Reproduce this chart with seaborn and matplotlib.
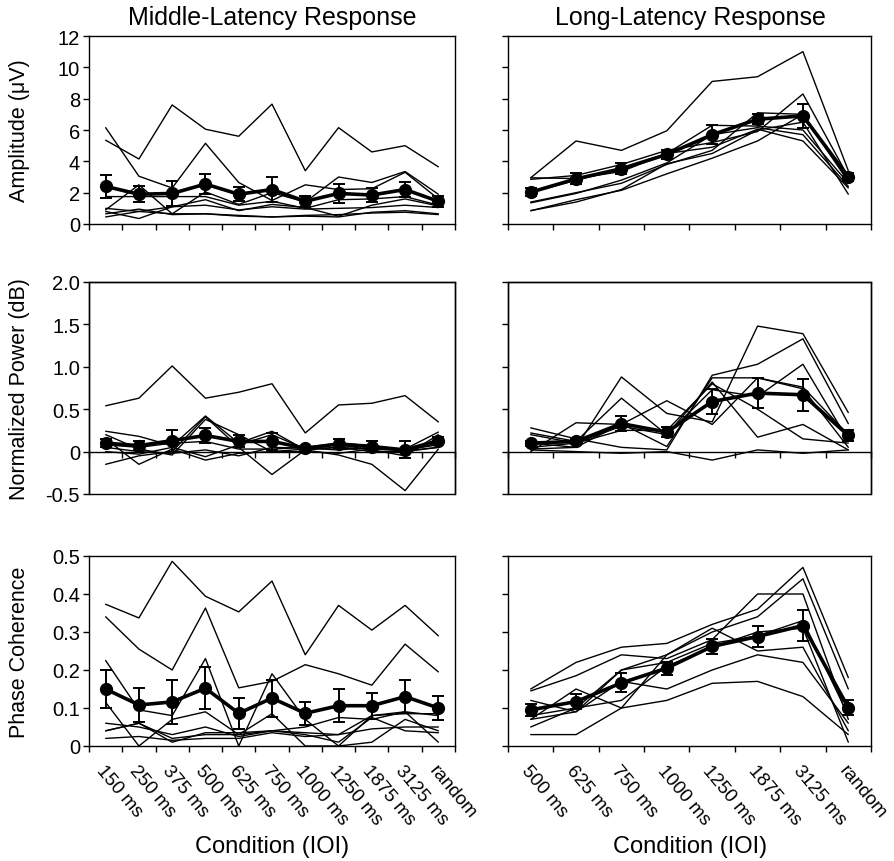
import numpy as np
import pandas as pd
import seaborn as sns
import matplotlib.pyplot as plt
from matplotlib.patches import Rectangle
from matplotlib.ticker import FixedLocator, FixedFormatter, NullFormatter

# conditions (IOI)
mlr_conditions = ["150 ms", "250 ms", "375 ms", "500 ms", "625 ms", "750 ms",
                  "1000 ms", "1250 ms", "1875 ms", "3125 ms", "random"]
llr_conditions = ["500 ms", "625 ms", "750 ms", "1000 ms", "1250 ms",
                  "1875 ms", "3125 ms", "random"]

# --- amplitude (uV) ---
mlr_amp_subjects = [
    [5.35, 4.15, 7.6, 6.05, 5.6, 7.65, 3.4, 6.15, 4.6, 5.0, 3.65],
    [6.15, 3.05, 2.3, 5.15, 2.65, 1.5, 2.5, 2.2, 2.25, 3.3, 1.6],
    [0.9, 2.5, 0.65, 2.05, 1.25, 2.0, 1.4, 3.0, 2.65, 3.35, 1.9],
    [1.75, 1.75, 1.75, 1.75, 1.2, 1.45, 1.0, 1.55, 1.6, 1.75, 1.2],
    [0.8, 0.35, 1.1, 1.55, 0.85, 1.25, 1.05, 0.5, 1.2, 1.6, 1.15],
    [0.65, 0.95, 0.6, 0.65, 0.55, 0.45, 0.5, 0.45, 0.75, 0.85, 0.65],
    [0.45, 0.8, 0.65, 0.65, 0.5, 0.45, 0.55, 0.6, 0.7, 0.75, 0.6],
    [1.0, 0.8, 1.1, 1.2, 0.9, 1.1, 0.95, 1.0, 1.05, 1.2, 1.05],
]
mlr_amp_mean = [2.4, 1.9, 1.95, 2.55, 1.9, 2.2, 1.45, 1.95, 1.85, 2.2, 1.45]
mlr_amp_sem = [0.75, 0.5, 0.8, 0.65, 0.45, 0.8, 0.35, 0.6, 0.45, 0.5, 0.35]

llr_amp_subjects = [
    [2.95, 5.3, 4.7, 5.95, 9.1, 9.4, 11.0, 3.4],
    [2.85, 3.1, 3.8, 4.7, 5.2, 5.9, 8.3, 3.0],
    [2.0, 2.8, 3.5, 4.5, 6.3, 6.25, 6.0, 2.6],
    [1.4, 2.0, 2.6, 3.8, 4.7, 7.1, 7.0, 2.9],
    [0.85, 1.55, 2.15, 3.2, 4.2, 5.3, 7.0, 2.7],
    [0.85, 1.4, 2.2, 3.85, 4.5, 6.0, 6.5, 1.9],
    [1.35, 1.95, 2.8, 3.9, 5.7, 6.15, 5.7, 2.4],
    [2.95, 2.9, 3.35, 4.5, 4.9, 6.05, 5.3, 2.3],
]
llr_amp_mean = [2.03, 2.88, 3.53, 4.44, 5.7, 6.69, 6.9, 3.0]
llr_amp_sem = [0.25, 0.35, 0.35, 0.3, 0.6, 0.3, 0.75, 0.25]

# --- normalized power (dB) ---
mlr_pow_subjects = [
    [0.54, 0.63, 1.01, 0.63, 0.70, 0.80, 0.22, 0.55, 0.57, 0.66, 0.35],
    [0.24, 0.18, 0.07, 0.42, 0.1, 0.24, 0.02, 0.05, 0.03, 0.03, 0.23],
    [-0.15, -0.05, 0.0, 0.41, 0.05, -0.27, 0.02, -0.04, -0.15, -0.46, 0.03],
    [0.15, -0.15, 0.03, -0.1, -0.02, 0.0, 0.03, 0.05, 0.0, 0.0, 0.05],
    [0.05, 0.0, -0.02, 0.02, -0.05, 0.05, 0.04, 0.02, 0.05, 0.01, 0.1],
    [0.0, -0.03, 0.05, -0.06, 0.08, 0.2, 0.03, 0.08, 0.02, -0.05, 0.2],
    [0.08, 0.05, 0.1, 0.12, 0.03, 0.03, 0.05, 0.1, 0.07, 0.02, 0.08],
    [0.2, 0.03, -0.04, 0.38, 0.2, 0.0, 0.0, -0.02, 0.03, 0.01, 0.05],
]
mlr_pow_mean = [0.10, 0.07, 0.13, 0.19, 0.12, 0.12, 0.04, 0.09, 0.06, 0.02, 0.13]
mlr_pow_sem = [0.05, 0.05, 0.13, 0.09, 0.07, 0.1, 0.02, 0.06, 0.07, 0.1, 0.04]

llr_pow_subjects = [
    [0.03, 0.05, 0.88, 0.45, 0.35, 1.48, 1.39, 0.46],
    [0.28, 0.15, 0.05, 0.02, 0.9, 1.03, 1.33, 0.33],
    [0.22, 0.12, 0.63, 0.2, 0.73, 0.65, 1.03, 0.13],
    [0.0, 0.34, 0.32, 0.6, 0.32, 0.87, 0.76, 0.2],
    [0.1, 0.05, 0.33, 0.06, 0.87, 0.87, 0.74, 0.05],
    [0.05, 0.1, 0.3, 0.2, 0.82, 0.17, 0.32, 0.02],
    [0.02, 0.0, -0.02, 0.0, -0.1, 0.02, -0.02, 0.02],
    [0.2, 0.1, 0.25, 0.25, 0.8, 0.5, 0.15, 0.1],
]
llr_pow_mean = [0.10, 0.12, 0.33, 0.23, 0.59, 0.69, 0.67, 0.19]
llr_pow_sem = [0.03, 0.03, 0.09, 0.06, 0.15, 0.18, 0.19, 0.06]

# --- phase coherence ---
mlr_coh_subjects = [
    [0.373, 0.337, 0.486, 0.394, 0.353, 0.434, 0.24, 0.37, 0.305, 0.37, 0.29],
    [0.34, 0.255, 0.2, 0.363, 0.153, 0.17, 0.214, 0.19, 0.16, 0.268, 0.195],
    [0.225, 0.095, 0.08, 0.23, 0.0, 0.19, 0.07, 0.0, 0.08, 0.09, 0.01],
    [0.115, 0.0, 0.07, 0.09, 0.03, 0.085, 0.0, 0.0, 0.01, 0.07, 0.04],
    [0.04, 0.06, 0.02, 0.03, 0.03, 0.04, 0.05, 0.075, 0.07, 0.09, 0.08],
    [0.06, 0.05, 0.03, 0.05, 0.025, 0.04, 0.035, 0.03, 0.08, 0.085, 0.085],
    [0.02, 0.025, 0.015, 0.02, 0.02, 0.035, 0.025, 0.03, 0.045, 0.05, 0.05],
    [0.04, 0.06, 0.01, 0.035, 0.035, 0.04, 0.03, 0.01, 0.075, 0.04, 0.035],
]
mlr_coh_mean = [0.15, 0.108, 0.116, 0.152, 0.086, 0.126, 0.086, 0.106, 0.106, 0.13, 0.1]
mlr_coh_sem = [0.05, 0.045, 0.057, 0.055, 0.04, 0.049, 0.03, 0.043, 0.034, 0.043, 0.032]

llr_coh_subjects = [
    [0.15, 0.22, 0.26, 0.27, 0.32, 0.36, 0.47, 0.18],
    [0.05, 0.1, 0.2, 0.24, 0.3, 0.34, 0.44, 0.15],
    [0.145, 0.185, 0.24, 0.23, 0.28, 0.4, 0.4, 0.07],
    [0.03, 0.03, 0.1, 0.12, 0.165, 0.17, 0.13, 0.03],
    [0.07, 0.15, 0.1, 0.24, 0.31, 0.25, 0.26, 0.04],
    [0.12, 0.09, 0.17, 0.15, 0.2, 0.24, 0.22, 0.06],
    [0.08, 0.1, 0.12, 0.21, 0.26, 0.3, 0.31, 0.01],
    [0.07, 0.09, 0.2, 0.22, 0.27, 0.29, 0.33, 0.08],
]
llr_coh_mean = [0.095, 0.117, 0.166, 0.205, 0.262, 0.288, 0.317, 0.101]
llr_coh_sem = [0.015, 0.02, 0.025, 0.017, 0.02, 0.027, 0.04, 0.02]

amp_ticks = [0, 2, 4, 6, 8, 10, 12]
amp_labels = ["0", "2", "4", "6", "8", "10", "12"]
pow_ticks = [-0.5, 0, 0.5, 1.0, 1.5, 2.0]
pow_labels = ["-0.5", "0", "0.5", "1.0", "1.5", "2.0"]
coh_ticks = [0, 0.1, 0.2, 0.3, 0.4, 0.5]
coh_labels = ["0", "0.1", "0.2", "0.3", "0.4", "0.5"]

sns.set_style("ticks")
plt.rcParams["font.family"] = ["Liberation Sans", "DejaVu Sans"]
plt.rcParams["text.color"] = "black"
plt.rcParams["xtick.color"] = "black"
plt.rcParams["ytick.color"] = "black"
plt.rcParams["xtick.labelcolor"] = "black"
plt.rcParams["ytick.labelcolor"] = "black"

fig = plt.figure(figsize=(8.95, 8.62), dpi=100)

col_x = [(89, 366), (508, 363)]
row_y = [(37, 188), (283, 212), (557, 190)]
W, H = 895, 862


def draw_panel(ax, conditions, subjects, mean, sem):
    n = len(conditions)
    rows = [(s, i, v) for s, vals in enumerate(subjects) for i, v in enumerate(vals)]
    df = pd.DataFrame(rows, columns=["subject", "pos", "value"])
    sns.lineplot(data=df, x="pos", y="value", units="subject", estimator=None,
                 color="black", linewidth=1.0, ax=ax, legend=False)
    ax.errorbar(np.arange(n), mean, yerr=sem, color="black", linewidth=2.6,
                marker="o", markersize=8.5, capsize=4.5, elinewidth=1.4,
                capthick=1.4, zorder=5)
    ax.set_xlim(-0.5, n - 0.5)
    ax.xaxis.set_major_locator(FixedLocator(np.arange(n + 1) - 0.5))
    ax.xaxis.set_major_formatter(NullFormatter())
    ax.xaxis.set_minor_locator(FixedLocator(np.arange(n)))
    ax.tick_params(axis="x", which="minor", length=0)
    ax.tick_params(axis="both", which="major", direction="out", length=4,
                   width=1, color="black", labelsize=14.5, pad=2.5)
    ax.set_xlabel("")
    ax.set_ylabel("")
    for sp in ax.spines.values():
        sp.set_visible(True)
        sp.set_color("black")
        sp.set_linewidth(1)


panels = [
    [(mlr_conditions, mlr_amp_subjects, mlr_amp_mean, mlr_amp_sem),
     (llr_conditions, llr_amp_subjects, llr_amp_mean, llr_amp_sem)],
    [(mlr_conditions, mlr_pow_subjects, mlr_pow_mean, mlr_pow_sem),
     (llr_conditions, llr_pow_subjects, llr_pow_mean, llr_pow_sem)],
    [(mlr_conditions, mlr_coh_subjects, mlr_coh_mean, mlr_coh_sem),
     (llr_conditions, llr_coh_subjects, llr_coh_mean, llr_coh_sem)],
]
yspecs = [((0, 12), amp_ticks, amp_labels),
          ((-0.5, 2.0), pow_ticks, pow_labels),
          ((0, 0.5), coh_ticks, coh_labels)]
ylabels = ["Amplitude (\u03bcV)", "Normalized Power (dB)", "Phase Coherence"]

for r in range(3):
    for c in range(2):
        x0, w = col_x[c]
        y0, h = row_y[r]
        ax = fig.add_axes([x0 / W, 1 - (y0 + h) / H, w / W, h / H])
        conds, subj, mean, sem = panels[r][c]
        draw_panel(ax, conds, subj, mean, sem)
        lim, ticks, labels = yspecs[r]
        ax.set_ylim(*lim)
        ax.yaxis.set_major_locator(FixedLocator(ticks))
        if c == 0:
            ax.yaxis.set_major_formatter(FixedFormatter(labels))
        else:
            ax.yaxis.set_major_formatter(NullFormatter())
        if r == 1:
            ax.spines["bottom"].set_position(("data", 0))
            ax.add_patch(Rectangle((0, 0), 1, 1, transform=ax.transAxes,
                                   fill=False, lw=1, ec="black", clip_on=False))
        if r == 2:
            ax.xaxis.set_minor_formatter(FixedFormatter(conds))
            ax.tick_params(axis="x", which="minor", pad=11, labelsize=13.5)
            plt.setp(ax.xaxis.get_minorticklabels(), rotation=-50, ha="left",
                     va="top", rotation_mode="anchor")
        if c == 0:
            fig.text(20 / W, 1 - (y0 + h / 2) / H, ylabels[r], rotation=90,
                     ha="center", va="center", fontsize=15.5)

fig.text(272 / W, 1 - 18 / H, "Middle-Latency Response", ha="center",
         va="center", fontsize=18)
fig.text(690 / W, 1 - 18 / H, "Long-Latency Response", ha="center",
         va="center", fontsize=18)
fig.text(272 / W, 1 - 847 / H, "Condition (IOI)", ha="center", va="center",
         fontsize=17)
fig.text(690 / W, 1 - 847 / H, "Condition (IOI)", ha="center", va="center",
         fontsize=17)

fig.savefig("out.png", dpi=100)
